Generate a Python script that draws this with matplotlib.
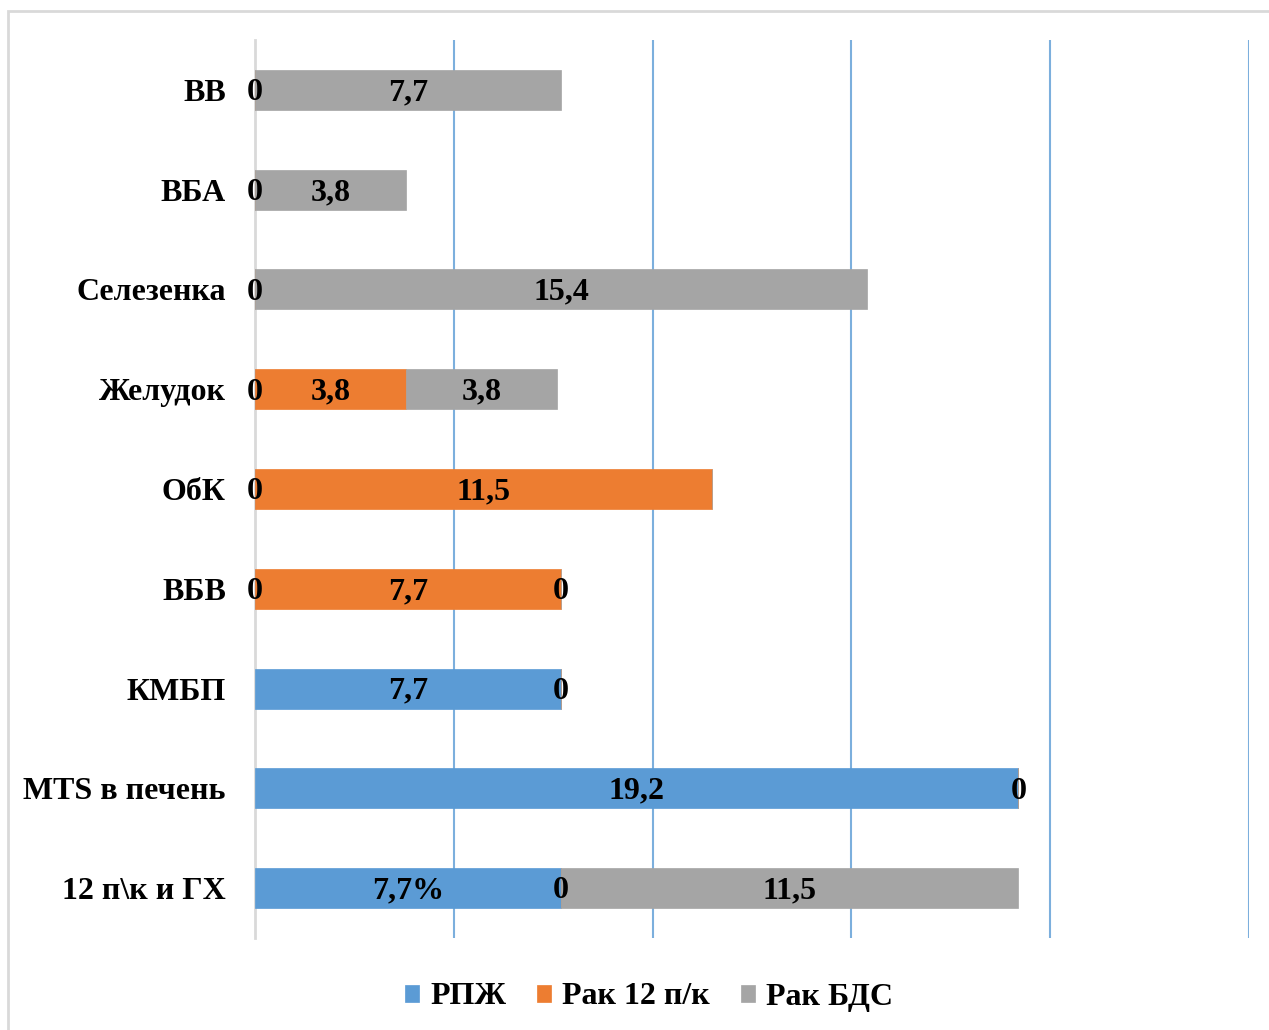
import matplotlib
matplotlib.use("Agg")
import matplotlib.pyplot as plt
from matplotlib.patches import Rectangle
import numpy as np

categories = ["12 п\\к и ГХ", "MTS в печень", "КМБП", "ВБВ", "ОбК",
              "Желудок", "Селезенка", "ВБА", "ВВ"]
series_names = ["РПЖ", "Рак 12 п/к", "Рак БДС"]
rpzh = [7.7, 19.2, 7.7, 0, 0, 0, 0, 0, 0]
rak12 = [0, 0, 0, 7.7, 11.5, 3.8, 0, 0, 0]
bds = [11.5, 0, 0, 0, 0, 3.8, 15.4, 3.8, 7.7]
rpzh_labels = ["7,7%", "19,2", "7,7", "0", "0", "0", "0", "0", "0"]
rak12_labels = ["0", "", "", "7,7", "11,5", "3,8", "", "", ""]
bds_labels = ["11,5", "0", "0", "0", "", "3,8", "15,4", "3,8", "7,7"]
colors = ["#5B9BD5", "#ED7D31", "#A5A5A5"]

plt.rcParams['font.family'] = ['Liberation Serif', 'DejaVu Serif']
plt.rcParams['font.weight'] = 'bold'
FS = 23

fig = plt.figure(figsize=(12.69, 10.30), dpi=100)
W, H = 1269, 1030
fig.patches.append(Rectangle((8 / W, -0.1), 1.2, 1 - 11 / H + 0.1,
                             transform=fig.transFigure, fill=False,
                             edgecolor="#D9D9D9", linewidth=2))
ax = fig.add_axes([255 / W, 1 - 938 / H, (1249 - 255) / W, (938 - 40) / H])

y = np.arange(len(categories))
left = np.zeros(len(categories))
data = [rpzh, rak12, bds]
labels = [rpzh_labels, rak12_labels, bds_labels]
for vals, col, name, labs in zip(data, colors, series_names, labels):
    bars = ax.barh(y, vals, left=left, height=0.4, color=col, label=name,
                   edgecolor=col, linewidth=0.5, zorder=3)
    anns = ax.bar_label(bars, labels=labs, label_type='center', fontsize=FS,
                        fontweight='bold', color='black', zorder=4)
    for a in anns:
        a.xyann = (0, -2)
    left = left + np.array(vals)

ax.set_xlim(0, 25)
ax.set_ylim(-0.5, len(categories) - 0.5)
ax.set_xticks([5, 10, 15, 20, 25])
ax.set_xticklabels([])
ax.tick_params(axis='x', length=0)
ax.grid(axis='x', color="#5B9BD5", linewidth=1.5, alpha=0.8, zorder=0)
ax.set_yticks(y)
ax.set_yticklabels(categories, fontsize=FS, fontweight='bold')
ax.tick_params(axis='y', length=0, pad=21)
for s in ['top', 'right', 'bottom']:
    ax.spines[s].set_visible(False)
ax.spines['left'].set_color("#D9D9D9")
ax.spines['left'].set_linewidth(2)
ax.spines['left'].set_zorder(2)

fig.legend(loc='center', bbox_to_anchor=(649 / W, 1 - 997 / H), ncol=3,
           frameon=False, prop={'size': FS, 'weight': 'bold'},
           handlelength=0.45, handleheight=0.45, handletextpad=0.35,
           columnspacing=0.95)

fig.savefig("out.png", dpi=100)
